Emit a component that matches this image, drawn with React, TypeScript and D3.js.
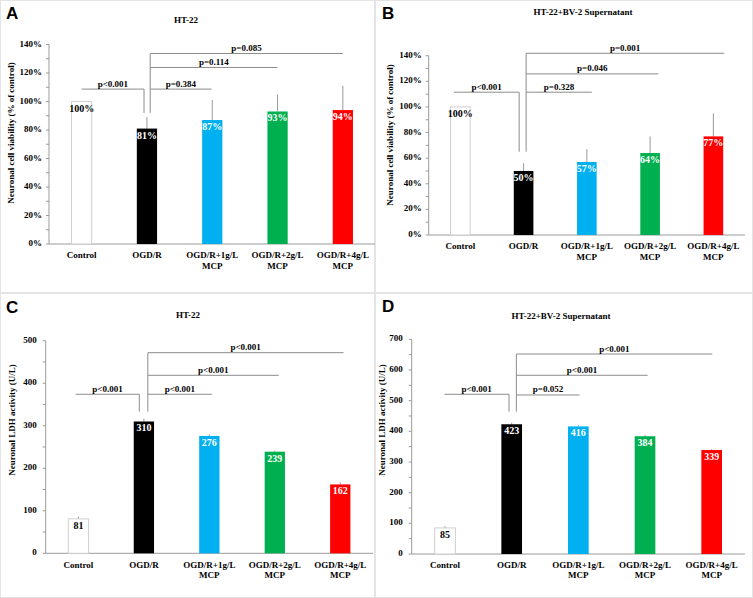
import React from "react";
import * as d3 from "d3";

const categories = ["Control", "OGD/R", "OGD/R+1g/L MCP", "OGD/R+2g/L MCP", "OGD/R+4g/L MCP"];
const categoryLines = [["Control"], ["OGD/R"], ["OGD/R+1g/L", "MCP"], ["OGD/R+2g/L", "MCP"], ["OGD/R+4g/L", "MCP"]];
const barColors = ["#ffffff", "#000000", "#00b0f0", "#00b050", "#ff0000"];
const labelColors = ["#000000", "#ffffff", "#ffffff", "#ffffff", "#ffffff"];

const panelLetters = ["A", "B", "C", "D"];
const panelTitles = ["HT-22", "HT-22+BV-2 Supernatant", "HT-22", "HT-22+BV-2 Supernatant"];
const yAxisTitles = [
  "Neuronal cell viability (% of control)",
  "Neuronal cell viability (% of control)",
  "Neuronal LDH activity (U/L)",
  "Neuronal LDH activity (U/L)",
];

// values
const viabilityHT22 = [100, 81, 87, 93, 94];
const viabilityHT22Err = [0, 8, 14, 12, 17];
const viabilityBV2 = [100, 50, 57, 64, 77];
const viabilityBV2Err = [0, 6, 10, 13, 18];
const ldhHT22 = [81, 310, 276, 239, 162];
const ldhHT22Err = [5, 7, 4, 3, 5];
const ldhBV2 = [85, 423, 416, 384, 339];
const ldhBV2Err = [6, 5, 4, 4, 3];

const yMax = [140, 140, 500, 700];
const yMajor = [20, 20, 100, 100];
const yMinor = [10, 10, 50, 50];

// significance brackets: left comparison (Control vs OGD/R), then OGD/R vs treatments
const pLeft = ["p<0.001", "p<0.001", "p<0.001", "p<0.001"];
const pLeftLevel = [108.7, 111.5, 374, 520.7];
const pRight = [
  ["p=0.384", "p=0.114", "p=0.085"],
  ["p=0.328", "p=0.046", "p=0.001"],
  ["p<0.001", "p<0.001", "p<0.001"],
  ["p=0.052", "p<0.001", "p<0.001"],
];
const pRightLevels = [
  [108.7, 123.9, 133.7],
  [111.5, 125.8, 141.9],
  [374, 418.6, 471.8],
  [518.4, 582.7, 652],
];
const bracketBottom = [92, 65, 333, 464];
// bracket x anchors in category-index units
const bracketLeftStart = [0.0, -0.1, -0.04, -0.01];
const bracketLeftEnd = [0.955, 0.93, 0.93, 0.96];
const bracketRightX = [1.05, 1.04, 1.06, 1.07];
const bracketEnds = [
  [1.99, 3.0, 4.0],
  [2.08, 3.13, 4.17],
  [2.04, 3.06, 4.05],
  [2.02, 3.04, 4.01],
];

const panelValues = [viabilityHT22, viabilityBV2, ldhHT22, ldhBV2];
const panelErrors = [viabilityHT22Err, viabilityBV2Err, ldhHT22Err, ldhBV2Err];

// layout
const panelBoxes = [
  { x: 0, y: 0, w: 375, h: 293 },
  { x: 375, y: 0, w: 378, h: 293 },
  { x: 0, y: 293, w: 375, h: 305 },
  { x: 375, y: 293, w: 378, h: 305 },
];
const plotBoxes = [
  { x0: 49, x1: 375.5, yBottom: 244, yTop: 44.5, titleX: 186, titleY: 23, letterX: 6, letterY: 19, yTitleX: 12, yTitleY: 133, xlabY: 258, tickGap: 7 },
  { x0: 428.7, x1: 745, yBottom: 235, yTop: 55.7, titleX: 583, titleY: 15, letterX: 382, letterY: 19, yTitleX: 391, yTitleY: 135, xlabY: 249, tickGap: 7 },
  { x0: 45.7, x1: 373, yBottom: 553.3, yTop: 340.7, titleX: 188, titleY: 318, letterX: 6, letterY: 313, yTitleX: 13, yTitleY: 420, xlabY: 567.5, tickGap: 9 },
  { x0: 411.7, x1: 745, yBottom: 554, yTop: 339.3, titleX: 561, titleY: 319, letterX: 382, letterY: 312, yTitleX: 383, yTitleY: 420, xlabY: 567.5, tickGap: 9 },
];

const SERIF = "'Liberation Serif', 'Times New Roman', serif";
const SANS = "'Liberation Sans', Arial, sans-serif";
const AXIS_COLOR = "#9a9a9a";
const BRACKET_COLOR = "#8c8c8c";

function Panel({ i }: { i: number }) {
  const pb = plotBoxes[i];
  const values = panelValues[i];
  const errs = panelErrors[i];
  const isPct = i < 2;
  const x = d3
    .scaleBand<string>()
    .domain(categories)
    .range([pb.x0, pb.x1])
    .paddingInner(0.69)
    .paddingOuter(0.345);
  const step = x.step();
  const bw = x.bandwidth();
  const cx = (idx: number) => (x(categories[0]) as number) + bw / 2 + idx * step;
  const y = d3.scaleLinear().domain([0, yMax[i]]).range([pb.yBottom, pb.yTop]);
  const majors = d3.range(0, yMax[i] + 0.001, yMajor[i]);
  const minors = d3.range(0, yMax[i] + 0.001, yMinor[i]);
  const fmt = (v: number) => (isPct ? `${v}%` : `${v}`);
  const box = panelBoxes[i];

  const rightTop = Math.max(...pRightLevels[i]);
  const rx = cx(bracketRightX[i]);
  const lEnd = cx(bracketLeftEnd[i]);
  const lStart = cx(bracketLeftStart[i]);

  return (
    <g>
      <rect x={box.x + 0.5} y={box.y + 0.5} width={box.w - 1} height={box.h - 1} fill="#fff" stroke="#e4e4e4" />
      <text x={pb.letterX} y={pb.letterY} fontFamily={SANS} fontWeight="bold" fontSize={17} fill="#000">
        {panelLetters[i]}
      </text>
      <text x={pb.titleX} y={pb.titleY} textAnchor="middle" fontFamily={SERIF} fontWeight="bold" fontSize={9} fill="#000">
        {panelTitles[i]}
      </text>
      <text
        transform={`translate(${pb.yTitleX},${pb.yTitleY}) rotate(-90)`}
        textAnchor="middle"
        dominantBaseline="middle"
        fontFamily={SERIF}
        fontWeight="bold"
        fontSize={9}
        fill="#000"
      >
        {yAxisTitles[i]}
      </text>
      {/* y axis */}
      <line x1={pb.x0} x2={pb.x0} y1={y(0)} y2={y(yMax[i])} stroke={AXIS_COLOR} />
      {minors.map((v) => (
        <line key={"mn" + v} x1={pb.x0 - 3} x2={pb.x0} y1={y(v)} y2={y(v)} stroke={AXIS_COLOR} />
      ))}
      {majors.map((v) => (
        <text
          key={"mj" + v}
          x={pb.x0 - pb.tickGap}
          y={y(v)}
          textAnchor="end"
          dominantBaseline="middle"
          fontFamily={SERIF}
          fontWeight="bold"
          fontSize={9}
          fill="#000"
        >
          {fmt(v)}
        </text>
      ))}
      {/* x axis */}
      <line x1={pb.x0} x2={pb.x1} y1={y(0)} y2={y(0)} stroke={AXIS_COLOR} />
      {categories.map((c, k) => (
        <text key={"xl" + k} x={cx(k)} y={pb.xlabY} textAnchor="middle" fontFamily={SERIF} fontWeight="bold" fontSize={9} fill="#000">
          {categoryLines[k].map((ln, j) => (
            <tspan key={j} x={cx(k)} dy={j === 0 ? 0 : 10.5}>
              {ln}
            </tspan>
          ))}
        </text>
      ))}
      {/* error bars */}
      {values.map((v, k) =>
        errs[k] > 0 ? (
          <line key={"e" + k} x1={cx(k)} x2={cx(k)} y1={y(v)} y2={y(v + errs[k])} stroke={AXIS_COLOR} />
        ) : null
      )}
      {/* bars */}
      {values.map((v, k) => (
        <rect
          key={"b" + k}
          x={x(categories[k])}
          y={y(v)}
          width={bw}
          height={y(0) - y(v)}
          fill={barColors[k]}
          stroke={k === 0 ? "#cfcfcf" : "none"}
        />
      ))}
      {values.map((v, k) => (
        <text
          key={"v" + k}
          x={cx(k)}
          y={y(v) + 10}
          textAnchor="middle"
          fontFamily={SERIF}
          fontWeight="bold"
          fontSize={10}
          fill={labelColors[k]}
        >
          {fmt(v)}
        </text>
      ))}
      {/* brackets */}
      <path
        d={`M${lStart},${y(pLeftLevel[i])}H${lEnd}V${y(bracketBottom[i])}`}
        fill="none"
        stroke={BRACKET_COLOR}
      />
      <text
        x={(lStart + lEnd) / 2}
        y={y(pLeftLevel[i]) - 2.5}
        textAnchor="middle"
        fontFamily={SERIF}
        fontWeight="bold"
        fontSize={9}
        fill="#000"
      >
        {pLeft[i]}
      </text>
      <line x1={rx} x2={rx} y1={y(bracketBottom[i])} y2={y(rightTop)} stroke={BRACKET_COLOR} />
      {pRight[i].map((p, j) => {
        const yy = y(pRightLevels[i][j]);
        const ex = cx(bracketEnds[i][j]);
        return (
          <g key={"br" + j}>
            <line x1={rx} x2={ex} y1={yy} y2={yy} stroke={BRACKET_COLOR} />
            <text
              x={(rx + ex) / 2}
              y={yy - 2.5}
              textAnchor="middle"
              fontFamily={SERIF}
              fontWeight="bold"
              fontSize={9}
              fill="#000"
            >
              {p}
            </text>
          </g>
        );
      })}
    </g>
  );
}

export default function App() {
  return (
    <svg
      width={753}
      height={598}
      viewBox="0 0 753 598"
      style={{ position: "absolute", left: 0, top: 0, background: "#fff" }}
    >
      {[0, 1, 2, 3].map((i) => (
        <Panel key={i} i={i} />
      ))}
    </svg>
  );
}
